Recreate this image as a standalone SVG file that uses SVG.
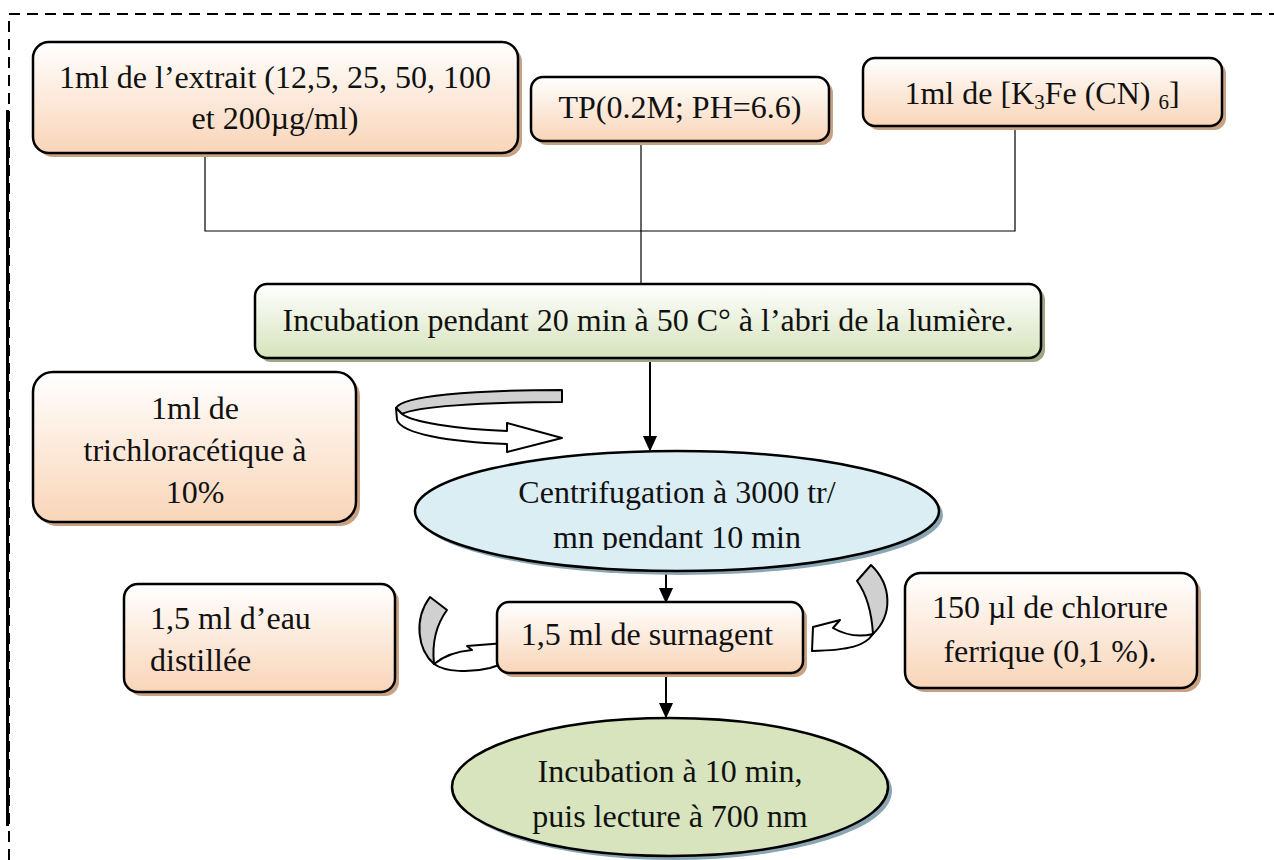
<svg xmlns="http://www.w3.org/2000/svg" width="1274" height="860" viewBox="0 0 1274 860">
<defs>
<linearGradient id="gOr" x1="0" y1="0" x2="0" y2="1"><stop offset="0" stop-color="#ffffff"/><stop offset="1" stop-color="#f9d5b8"/></linearGradient>
<linearGradient id="gGr" x1="0" y1="0" x2="0" y2="1"><stop offset="0" stop-color="#ffffff"/><stop offset="1" stop-color="#d6e3bc"/></linearGradient>
<marker id="ah" viewBox="0 0 10 10" refX="9" refY="5" markerWidth="16" markerHeight="16" markerUnits="userSpaceOnUse" orient="auto"><path d="M0,0.5 L10,5 L0,9.5 Z" fill="#000"/></marker>
<clipPath id="clipC"><rect x="400" y="440" width="560" height="110"/></clipPath>
<style>
.t{font-family:"Liberation Serif","Times New Roman",serif;font-size:32px;fill:#111;}
.m{text-anchor:middle;}
.box{stroke:#000;stroke-width:2.5;}
.sh{fill:#c9a283;}
.shg{fill:#9fa585;}
.she{fill:#8aa6b3;}
.ln{stroke:#000;stroke-width:1.2;fill:none;}
.ar{stroke:#000;stroke-width:2;fill:none;}
.gray{fill:#d0d0d0;stroke:#000;stroke-width:2;stroke-linejoin:round;}
.wh{fill:#fff;stroke:#000;stroke-width:2;stroke-linejoin:round;}
</style>
</defs>
<rect width="1274" height="860" fill="#fff"/>
<path d="M9,860 L9,14 L1274,14" fill="none" stroke="#000" stroke-width="2" stroke-dasharray="11 7"/>
<line x1="7.5" y1="110" x2="7.5" y2="826" stroke="#000" stroke-width="3"/>

<g id="connectors">
<path class="ln" d="M205,153 L205,231 L1015,231 L1015,126"/>
<path class="ln" d="M641,141 L641,284"/>
<line class="ar" x1="650" y1="358" x2="650" y2="450" marker-end="url(#ah)"/>
<line class="ar" x1="666" y1="572" x2="666" y2="602" marker-end="url(#ah)"/>
<line class="ar" x1="666" y1="673" x2="666" y2="717" marker-end="url(#ah)"/>
<g id="curved-top">
<path class="gray" d="M396,408 C402,396 470,390 562,390 L562,402 C480,402 415,407 402,414 Z"/>
<path class="wh" d="M396,408 L397,420 C402,434 450,442 507,444 L507,452 L562,438 L507,423 L507,431 C455,429 412,422 402,414 Z"/>
</g>
<g id="curved-left">
<path class="gray" d="M430,597 L447,610 C436,625 432,645 434,664 C418,650 413,620 430,597 Z"/>
<path class="wh" d="M434,664 C445,655 460,651 472,650 L467,646 L505,643 L505,663 L490,668 C470,673 445,672 434,664 Z"/>
</g>
<g id="curved-right">
<path class="gray" d="M857,581 L871,565 C892,585 893,615 873,634 C872,618 868,596 857,581 Z"/>
<path class="wh" d="M813,627 L840,620 L833,628 C845,635 860,637 873,634 C865,646 850,650 812,651 Z"/>
</g>
</g>

<g id="n1">
<rect class="sh" x="37" y="46" width="485" height="111" rx="16"/>
<rect class="box" x="33" y="42" width="485" height="111" rx="16" fill="url(#gOr)"/>
<text class="t m" x="275" y="88">1ml de l’extrait (12,5, 25, 50, 100</text>
<text class="t m" x="275" y="129">et 200µg/ml)</text>
</g>
<g id="n2">
<rect class="sh" x="535" y="81" width="298" height="64" rx="12"/>
<rect class="box" x="531" y="77" width="298" height="64" rx="12" fill="url(#gOr)"/>
<text class="t m" x="680" y="118">TP(0.2M; PH=6.6)</text>
</g>
<g id="n3">
<rect class="sh" x="867" y="62" width="359" height="68" rx="12"/>
<rect class="box" x="863" y="58" width="359" height="68" rx="12" fill="url(#gOr)"/>
<text class="t m" x="1042" y="104">1ml de [K<tspan font-size="21" dy="5">3</tspan><tspan dy="-5">Fe (CN) </tspan><tspan font-size="21" dy="5">6</tspan><tspan dy="-5">]</tspan></text>
</g>
<g id="n4">
<rect class="shg" x="259" y="288" width="786" height="74" rx="12"/>
<rect class="box" x="255" y="284" width="786" height="74" rx="12" fill="url(#gGr)"/>
<text class="t m" x="648" y="331">Incubation pendant 20 min à 50 C° à l’abri de la lumière.</text>
</g>
<g id="n5">
<rect class="sh" x="37" y="376" width="323" height="150" rx="20"/>
<rect class="box" x="33" y="372" width="323" height="150" rx="20" fill="url(#gOr)"/>
<text class="t m" x="195" y="419">1ml de</text>
<text class="t m" x="195" y="461">trichloracétique à</text>
<text class="t m" x="195" y="503">10%</text>
</g>
<g id="n6">
<ellipse class="she" cx="681" cy="515" rx="262" ry="60"/>
<ellipse class="box" cx="677" cy="511" rx="262" ry="60" fill="#dbeef3"/>
<g clip-path="url(#clipC)">
<text class="t m" x="677" y="503">Centrifugation à 3000 tr/</text>
<text class="t m" x="677" y="548">mn pendant 10 min</text>
</g>
</g>
<g id="n7">
<rect class="sh" x="501" y="606" width="306" height="71" rx="12"/>
<rect class="box" x="497" y="602" width="306" height="71" rx="12" fill="url(#gOr)"/>
<text class="t m" x="647" y="645">1,5 ml de surnagent</text>
</g>
<g id="n8">
<rect class="sh" x="128" y="588" width="271" height="108" rx="14"/>
<rect class="box" x="124" y="584" width="271" height="108" rx="14" fill="url(#gOr)"/>
<text class="t" x="150" y="629">1,5 ml d’eau</text>
<text class="t" x="150" y="671">distillée</text>
</g>
<g id="n9">
<rect class="sh" x="909" y="577" width="292" height="115" rx="16"/>
<rect class="box" x="905" y="573" width="292" height="115" rx="16" fill="url(#gOr)"/>
<text class="t m" x="1050" y="618">150 µl de chlorure</text>
<text class="t m" x="1050" y="662">ferrique (0,1 %).</text>
</g>
<g id="n10">
<ellipse class="she" cx="674" cy="791" rx="218" ry="69"/>
<ellipse class="box" cx="670" cy="787" rx="218" ry="69" fill="#d7e4bd"/>
<text class="t m" x="670" y="782">Incubation à 10 min,</text>
<text class="t m" x="670" y="827">puis lecture à 700 nm</text>
</g>
</svg>
